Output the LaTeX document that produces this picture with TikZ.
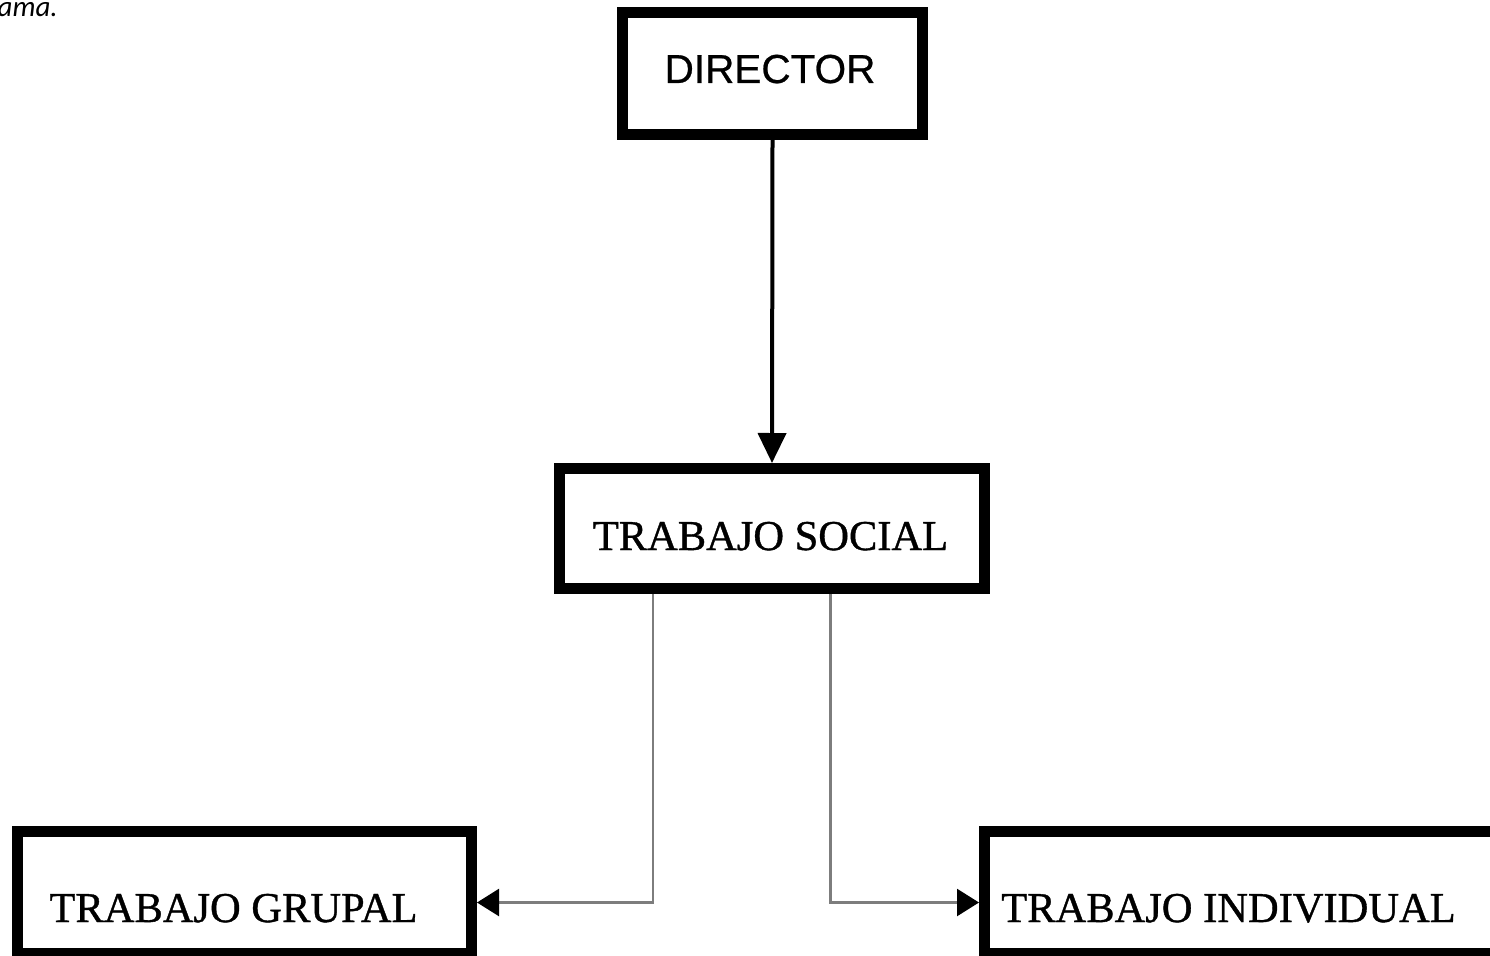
\documentclass[tikz,border=0pt]{standalone}
\usepackage{fontspec}
\setmainfont{Liberation Serif}
\newfontfamily\heavyserif{Liberation Serif}[FakeBold=0.9]
\newfontfamily\arialf{Liberation Sans}[FakeBold=0.6]
\newfontfamily\calib{Carlito}
\usetikzlibrary{arrows.meta}
\definecolor{linegray}{RGB}{125,125,125}
\tikzset{
  boxnode/.style={draw=black, line width=11pt, outer sep=5.5pt, inner sep=0pt, rectangle, fill=white},
  serifLbl/.style={inner sep=0pt, anchor=base, font=\heavyserif\fontsize{42.5}{50}\selectfont},
  sansLbl/.style={inner sep=0pt, anchor=base, font=\arialf\fontsize{40.5}{48}\selectfont},
  mainarrow/.style={line width=4pt, -{Triangle[length=30pt,width=28pt]}},
  sidearrow/.style={draw=linegray, line width=2.5pt, -{Triangle[length=22pt,width=27pt,color=black,fill=black]}}
}
\begin{document}
\begin{tikzpicture}[x=1pt,y=-1pt]
\useasboundingbox (0,0) rectangle (1490,955);
\clip (0,0) rectangle (1490,955);
% top-left cut text
\node[inner sep=0pt, anchor=base east, font=\calib\itshape\fontsize{29}{33}\selectfont] (cap) at (58,16.5) {ama.};
% boxes
\node[boxnode, minimum width=300pt, minimum height=122pt] (director) at (772.5,73.5) {};
\node[boxnode, minimum width=425pt, minimum height=120pt] (social) at (772,528.5) {};
\node[boxnode, minimum width=454pt, minimum height=122pt] (grupal) at (244.5,892.5) {};
\node[boxnode, minimum width=560pt, minimum height=122pt] (indiv) at (1264.5,892.5) {};
% labels
\node[sansLbl] (tdirector) at (770,83) {DIRECTOR};
\node[serifLbl] (tsocial) at (770.5,550) {TRABAJO SOCIAL};
\node[serifLbl] (tgrupal) at (233.5,922) {TRABAJO GRUPAL};
\node[serifLbl] (tindiv) at (1228.5,922) {TRABAJO INDIVIDUAL};
% connectors
\draw[mainarrow] (director.south) -- (social.north);
\coordinate (lt) at (653,594);
\coordinate (lb) at (653,902.5);
\coordinate (rt) at (830.5,594);
\coordinate (rb) at (830.5,902.5);
\draw[sidearrow] (lt) -- (lb) -- (lb -| grupal.east);
\draw[sidearrow] (rt) -- (rb) -- (rb -| indiv.west);
\end{tikzpicture}
\end{document}
